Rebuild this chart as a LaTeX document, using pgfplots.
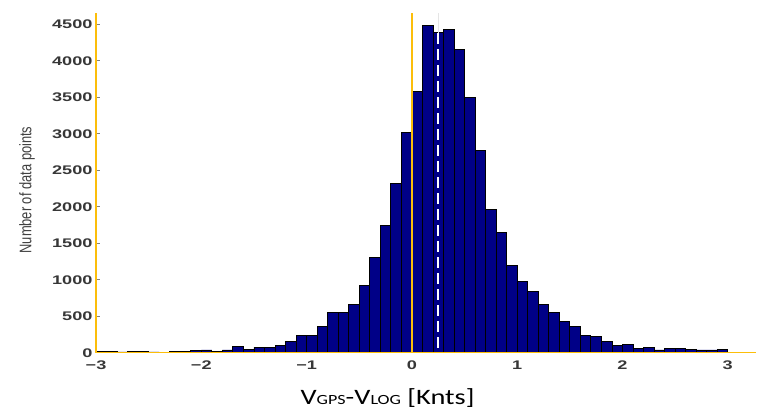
\documentclass[border=0pt]{standalone}
\usepackage{pgfplots}
\pgfplotsset{compat=1.18}
\usepackage{fontspec}
\setmainfont{Liberation Sans}
\newfontfamily\calibri{Carlito}
\definecolor{barblue}{RGB}{0,0,135}
\definecolor{annotorange}{RGB}{252,190,10}
\definecolor{ticktext}{RGB}{55,55,55}
\newcommand\sx[1]{\scalebox{1.45}[1]{#1}}

\begin{document}
\begin{tikzpicture}
\path[use as bounding box] (-96pt,-61.3pt) rectangle (663pt,352.7pt);
\begin{axis}[
    at={(0pt,0pt)}, anchor=south west,
    scale only axis,
    width=660.2pt, height=340pt,
    xmin=-3, xmax=3.27,
    ymin=0, ymax=4660,
    axis x line=bottom, axis y line=left,
    axis line style={-, draw=annotorange, line width=1.6pt},
    axis on top,
    tick align=inside,
    xtick={-3,-2,-1,0,1,2,3},
    xticklabels={\sx{−3},\sx{−2},\sx{−1},\sx{0},\sx{1},\sx{2},\sx{3}},
    ytick={0,500,...,4500},
    yticklabels={\sx{0},\sx{500},\sx{1000},\sx{1500},\sx{2000},\sx{2500},\sx{3000},\sx{3500},\sx{4000},\sx{4500}},
    x tick style={draw=none},
    y tick style={draw=gray, line width=0.8pt},
    major tick length=4pt,
    ticklabel style={font=\bfseries\fontsize{12.5}{12.5}\selectfont, text=ticktext},
    xticklabel style={yshift=-5pt},
    extra x ticks={0},
    extra x tick labels={},
    extra x tick style={grid=major, major grid style={draw=annotorange, line width=1.6pt}},
  ]
  % histogram, bin width 0.1, left edges
  \addplot[ybar interval, fill=barblue, draw=black, line width=0.8pt] coordinates {
    (-3.0,20) (-2.9,15) (-2.8,10) (-2.7,12) (-2.6,18) (-2.5,10) (-2.4,8) (-2.3,12)
    (-2.2,18) (-2.1,28) (-2.0,37) (-1.9,23) (-1.8,37) (-1.7,91) (-1.6,50) (-1.5,73)
    (-1.4,73) (-1.3,105) (-1.2,155) (-1.1,233) (-1.0,233) (-0.9,365) (-0.8,548)
    (-0.7,548) (-0.6,662) (-0.5,918) (-0.4,1306) (-0.3,1740) (-0.2,2320) (-0.1,3015)
    (0.0,3575) (0.1,4480) (0.2,4395) (0.3,4435) (0.4,4160) (0.5,3500) (0.6,2768)
    (0.7,1969) (0.8,1644) (0.9,1192) (1.0,982) (1.1,836) (1.2,658) (1.3,557)
    (1.4,425) (1.5,356) (1.6,242) (1.7,219) (1.8,155) (1.9,105) (2.0,119) (2.1,59)
    (2.2,73) (2.3,37) (2.4,64) (2.5,64) (2.6,50) (2.7,37) (2.8,37) (2.9,50) (3.0,50)
  };
  % mean marker
  \draw[white, line width=1.8pt, dash pattern=on 11pt off 5pt] (axis cs:0.25,4380) -- (axis cs:0.25,0);
  \draw[black!10, line width=0.6pt] (axis cs:0.25,4380) -- (axis cs:0.25,4660);
\end{axis}
\node[rotate=90, text=black!75] at (-69pt,162.7pt)
  {\scalebox{1}[1.3]{\fontsize{12.9}{12.9}\selectfont Number of data points}};
\node at (291.5pt,-45.8pt) {\scalebox{1.29}[1]{\calibri\fontsize{22}{22}\selectfont
  V{\fontsize{14}{14}\selectfont GPS}-V{\fontsize{14}{14}\selectfont LOG} [Knts]}};
\end{tikzpicture}
\end{document}
